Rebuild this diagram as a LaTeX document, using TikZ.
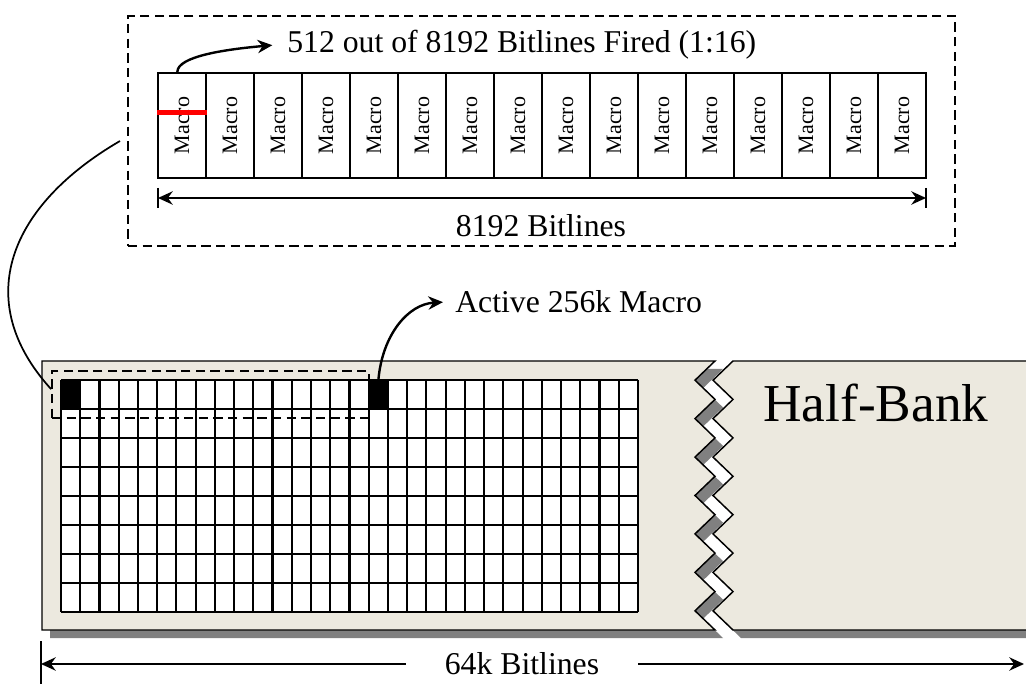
\documentclass[tikz,border=0pt]{standalone}
\usepackage{fontspec}
\setmainfont{Liberation Serif}
\usetikzlibrary{arrows.meta,fit}
\definecolor{bankfill}{RGB}{236,233,223}
\definecolor{shadowgray}{RGB}{128,128,128}
\definecolor{firedred}{RGB}{255,0,0}
\begin{document}
\begin{tikzpicture}[x=0.75pt,y=-0.75pt,
  bigtext/.style={font=\fontsize{23.8pt}{28pt}\selectfont, inner sep=0pt},
  macro/.style={draw, line width=1.5pt, fill=white, minimum width=36pt, minimum height=78.75pt, inner sep=0pt, font=\fontsize{16.5pt}{19pt}\selectfont},
  dashbox/.style={draw, line width=1.3pt, dash pattern=on 7pt off 4pt, inner sep=0pt},
  conn/.style={line width=1.8pt, -{Stealth[length=11pt,width=10pt]}},
  dim/.style={line width=1.5pt},
  gridline/.style={line width=1.6pt},
  blackcell/.style={fill=black, minimum width=14.42pt, minimum height=21.75pt, inner sep=0pt},
  bank/.style={fill=bankfill, draw=black, line width=1.1pt}]
\path[use as bounding box] (0,0) rectangle (1026,684);
\clip (0,0) rectangle (1026,684);

% ---- half-bank shadows
\fill[shadowgray, shift={(8,8)}] (42,630) -- (42,361) -- (715,361) -- (695,380.2) -- (715,399.4) -- (695,418.6) -- (715,437.9) -- (695,457.1) -- (715,476.3) -- (695,495.5) -- (715,514.7) -- (695,533.9) -- (715,553.1) -- (695,572.4) -- (715,591.6) -- (695,610.8) -- (715,630) -- cycle;
\fill[shadowgray, shift={(8,8)}] (1060,361) -- (733,361) -- (713,380.2) -- (733,399.4) -- (713,418.6) -- (733,437.9) -- (713,457.1) -- (733,476.3) -- (713,495.5) -- (733,514.7) -- (713,533.9) -- (733,553.1) -- (713,572.4) -- (733,591.6) -- (713,610.8) -- (733,630) -- (1060,630) -- cycle;
% ---- half-bank pieces
\path[bank] (42,630) -- (42,361) -- (715,361) -- (695,380.2) -- (715,399.4) -- (695,418.6) -- (715,437.9) -- (695,457.1) -- (715,476.3) -- (695,495.5) -- (715,514.7) -- (695,533.9) -- (715,553.1) -- (695,572.4) -- (715,591.6) -- (695,610.8) -- (715,630) -- cycle;
\path[bank] (1060,361) -- (733,361) -- (713,380.2) -- (733,399.4) -- (713,418.6) -- (733,437.9) -- (713,457.1) -- (733,476.3) -- (713,495.5) -- (733,514.7) -- (713,533.9) -- (733,553.1) -- (713,572.4) -- (733,591.6) -- (713,610.8) -- (733,630) -- (1060,630) -- cycle;
\node[anchor=base west, inner sep=0pt, font=\fontsize{40pt}{46pt}\selectfont] (hb) at (763,422) {Half-Bank};

% ---- macro grid
\fill[white] (61,380) rectangle (638,612);
\foreach \i in {0,...,30} \draw[gridline] ({61+\i*19.233},380) -- ({61+\i*19.233},612);
\foreach \j in {0,...,8} \draw[gridline] (61,{380+\j*29}) -- (638,{380+\j*29});
\node[blackcell] (first) at (70.6,394.5) {};
\node[blackcell] (act) at (378.4,394.5) {};

% ---- selected row (dashed)
\coordinate (selA) at (52,371);
\coordinate (selB) at (369,418);
\node[dashbox, fit=(selA)(selB)] (sel) {};

% ---- zoomed row box
\coordinate (zA) at (128,16);
\coordinate (zB) at (955,246);
\node[dashbox, fit=(zA)(zB)] (zoom) {};

\foreach \k in {1,...,16}
  \node[macro] (m\k) at ({182+48*(\k-1)},125.5) {\rotatebox{90}{Macro}};
\draw[firedred, line width=3.6pt] ([yshift=10pt]m1.west) -- ([yshift=10pt]m1.east);

% ---- labels
\node[bigtext, anchor=base west] (fired) at (287,53) {512 out of 8192 Bitlines Fired (1:16)};
\node[bigtext, anchor=base] (bl8192) at (541,237) {8192 Bitlines};
\node[bigtext, anchor=base west] (actlbl) at (455,313) {Active 256k Macro};

% ---- connectors
\draw[conn] ([xshift=-3.5pt]m1.north) .. controls +(0,-16) and +(-45,4) .. ([xshift=-11pt]fired.west);
\draw[conn] (act.north) .. controls +(4,-45) and +(-35,2) .. ([xshift=-9pt]actlbl.west);
\coordinate (cs) at (120,141);
\draw[line width=1.3pt] (cs) .. controls (10,205) and (-30,300) .. ([yshift=4pt]sel.west);

% ---- 8192 dimension
\coordinate (d1) at (158,198);
\coordinate (d2) at (926,198);
\draw[dim] ([yshift=7.5pt]d1) -- ([yshift=-7.5pt]d1);
\draw[dim] ([yshift=7.5pt]d2) -- ([yshift=-7.5pt]d2);
\draw[dim, {Stealth[length=11pt,width=10pt]}-{Stealth[length=11pt,width=10pt]}] (d1) -- (d2);

% ---- 64k dimension
\coordinate (b1) at (41,664);
\coordinate (b2) at (1024,664);
\draw[dim] ([yshift=17pt]b1) -- ([yshift=-17pt]b1);
\node[bigtext, inner xsep=29pt] (bw) at (522,664) {64k Bitlines};
\draw[dim, -{Stealth[length=11pt,width=10pt]}] (bw) -- (b1);
\draw[dim, -{Stealth[length=11pt,width=10pt]}] (bw) -- (b2);
\end{tikzpicture}
\end{document}
